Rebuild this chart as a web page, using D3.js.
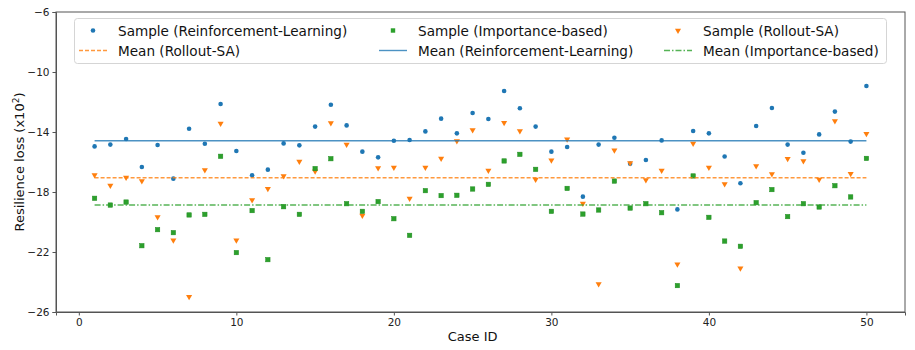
<!DOCTYPE html>
<html lang="en">
<head>
  <meta charset="UTF-8">
  <title>Resilience loss per case</title>
  <script src='https://d3js.org/d3.v7.min.js'></script>
  <style>
    body { margin: 0; background: #fff; }
    svg { font-family: 'DejaVu Sans', sans-serif; }
  </style>
</head>
<body>
</body>
<script>
  const width = 915, height = 350;
  const margin = {top: 12, right: 10, bottom: 38, left: 56};

  // values (x10^2)
  const caseIds = d3.range(1, 51);
  const rlLoss = [
    -14.96, -14.84, -14.47, -16.33, -14.87, -17.11, -13.78, -14.78, -12.13, -15.27,
    -16.89, -16.51, -14.76, -14.89, -13.64, -12.18, -13.56, -15.31, -15.69, -14.58,
    -14.53, -13.96, -13.11, -14.09, -12.73, -13.13, -11.27, -12.42, -13.64, -15.31,
    -15.00, -18.31, -14.84, -14.38, -16.11, -15.87, -14.56, -19.16, -13.93, -14.09,
    -15.63, -17.42, -13.60, -12.40, -14.84, -15.38, -14.16, -12.64, -14.64, -10.93
  ];
  const importanceLoss = [
    -18.42, -18.87, -18.67, -21.58, -20.51, -20.71, -19.53, -19.49, -15.62, -22.04,
    -19.24, -22.51, -18.98, -19.49, -16.44, -15.78, -18.78, -19.29, -18.64, -19.78,
    -20.89, -17.91, -18.24, -18.22, -17.80, -17.49, -15.93, -15.49, -16.49, -19.29,
    -17.76, -19.47, -19.20, -17.27, -19.07, -18.78, -19.38, -24.24, -16.93, -19.69,
    -21.27, -21.62, -18.71, -17.84, -19.64, -18.78, -19.00, -17.58, -18.33, -15.76
  ];
  const rolloutLoss = [
    -16.87, -17.56, -17.04, -17.27, -19.67, -21.22, -24.98, -16.53, -13.44, -21.22,
    -18.53, -17.78, -16.93, -15.96, -16.62, -13.40, -14.84, -19.56, -16.40, -16.36,
    -18.44, -16.36, -15.76, -14.60, -13.87, -16.56, -13.38, -13.93, -17.16, -15.89,
    -14.49, -18.76, -24.13, -15.22, -16.07, -17.20, -16.56, -22.82, -14.76, -16.36,
    -17.47, -23.09, -16.27, -16.80, -15.78, -15.93, -17.16, -13.27, -16.78, -14.11
  ];
  const meanRL = -14.58, meanImportance = -18.87, meanRollout = -17.05;
  const xTicks = [0, 10, 20, 30, 40, 50];
  const yTicks = [-26, -22, -18, -14, -10, -6];

  const blue = '#1f77b4', orange = '#ff7f0e', green = '#2ca02c';

  const svg = d3.select('body').append('svg').attr('width', width).attr('height', height);

  const x = d3.scaleLinear().domain([-1.45, 52.45]).range([margin.left, width - margin.right]);
  const y = d3.scaleLinear().domain([-26, -6]).range([height - margin.bottom, margin.top]);

  // axes
  const fmt = d3.format('d');
  svg.append('g')
    .attr('transform', `translate(0,${height - margin.bottom})`)
    .call(d3.axisBottom(x).tickValues(xTicks).tickFormat(fmt).tickSize(3.5).tickPadding(3))
    .call(g => g.selectAll('text').attr('font-size', 10.5).attr('fill', '#222').attr('font-family', 'DejaVu Sans'))
    .call(g => g.selectAll('line, path').attr('stroke', '#555'));
  svg.append('g')
    .attr('transform', `translate(${margin.left},0)`)
    .call(d3.axisLeft(y).tickValues(yTicks).tickFormat(fmt).tickSize(3.5).tickPadding(3))
    .call(g => g.selectAll('text').attr('font-size', 10.5).attr('fill', '#222').attr('font-family', 'DejaVu Sans'))
    .call(g => g.selectAll('line, path').attr('stroke', '#555'));
  svg.append('rect')
    .attr('x', margin.left).attr('y', margin.top)
    .attr('width', width - margin.left - margin.right)
    .attr('height', height - margin.top - margin.bottom)
    .attr('fill', 'none').attr('stroke', '#555');

  // markers
  const tri = d3.symbol().type(d3.symbolTriangle).size(16);
  const plot = svg.append('g');

  plot.selectAll('.rl').data(caseIds).join('circle')
    .attr('cx', d => x(d)).attr('cy', (d, i) => y(rlLoss[i])).attr('r', 2.3)
    .attr('fill', blue);
  plot.selectAll('.ro').data(caseIds).join('path')
    .attr('d', tri)
    .attr('transform', (d, i) => `translate(${x(d)},${y(rolloutLoss[i])}) rotate(180)`)
    .attr('fill', orange);
  plot.selectAll('.im').data(caseIds).join('rect')
    .attr('x', d => x(d) - 2.2).attr('y', (d, i) => y(importanceLoss[i]) - 2.2)
    .attr('width', 4.4).attr('height', 4.4)
    .attr('fill', green).attr('stroke', '#1e8c1e').attr('stroke-width', 0.5);

  // mean lines
  const means = [
    {v: meanRollout, c: orange, dash: '4,2'},
    {v: meanRL, c: blue, dash: null},
    {v: meanImportance, c: green, dash: '6,2,1.5,2'}
  ];
  svg.selectAll('.mean').data(means).join('line')
    .attr('x1', x(1)).attr('x2', x(50))
    .attr('y1', d => y(d.v)).attr('y2', d => y(d.v))
    .attr('stroke', d => d.c).attr('stroke-width', 1.4)
    .attr('stroke-opacity', 0.8)
    .attr('stroke-dasharray', d => d.dash);

  // axis labels
  svg.append('text')
    .attr('x', x(25)).attr('y', 341)
    .attr('text-anchor', 'middle').attr('font-size', 13).attr('fill', '#111')
    .text('Case ID');
  svg.append('text')
    .attr('transform', `translate(24,${(margin.top + height - margin.bottom) / 2}) rotate(-90)`)
    .attr('text-anchor', 'middle').attr('font-size', 13).attr('fill', '#111')
    .text('Resilience loss (x10')
    .append('tspan').attr('baseline-shift', 'super').attr('font-size', 9).text('2')
    .select(function () { return this.parentNode; })
    .append('tspan').text(')');

  // legend
  const legend = svg.append('g');
  legend.append('rect')
    .attr('x', 74.5).attr('y', 18.5).attr('width', 812).attr('height', 45).attr('rx', 3)
    .attr('fill', 'white').attr('fill-opacity', 0.8).attr('stroke', '#d5d5d5');

  const legendItems = [
    {label: 'Sample (Reinforcement-Learning)', kind: 'circle', c: blue, col: 0, row: 0},
    {label: 'Mean (Rollout-SA)', kind: 'line', c: orange, dash: '4,2', col: 0, row: 1},
    {label: 'Sample (Importance-based)', kind: 'square', c: green, col: 1, row: 0},
    {label: 'Mean (Reinforcement-Learning)', kind: 'line', c: blue, dash: null, col: 1, row: 1},
    {label: 'Sample (Rollout-SA)', kind: 'tri', c: orange, col: 2, row: 0},
    {label: 'Mean (Importance-based)', kind: 'line', c: green, dash: '6,2,1.5,2', col: 2, row: 1}
  ];
  const colX = [79, 379, 664];
  const rowY = [30.5, 50.5];

  legendItems.forEach(d => {
    const g = legend.append('g').attr('transform', `translate(${colX[d.col]},${rowY[d.row]})`);
    if (d.kind === 'line') {
      g.append('line').attr('x1', 0).attr('x2', 28).attr('y1', 0).attr('y2', 0)
        .attr('stroke', d.c).attr('stroke-width', 1.4).attr('stroke-opacity', 0.8)
        .attr('stroke-dasharray', d.dash);
    } else if (d.kind === 'circle') {
      g.append('circle').attr('cx', 14).attr('cy', 0).attr('r', 2.3).attr('fill', d.c);
    } else if (d.kind === 'square') {
      g.append('rect').attr('x', 11.8).attr('y', -2.2).attr('width', 4.4).attr('height', 4.4).attr('fill', d.c);
    } else {
      g.append('path').attr('d', tri).attr('transform', 'translate(14,0) rotate(180)').attr('fill', d.c);
    }
    g.append('text').attr('x', 39).attr('y', 5).attr('font-size', 13.6).attr('fill', '#111').text(d.label);
  });
</script>
</html>
